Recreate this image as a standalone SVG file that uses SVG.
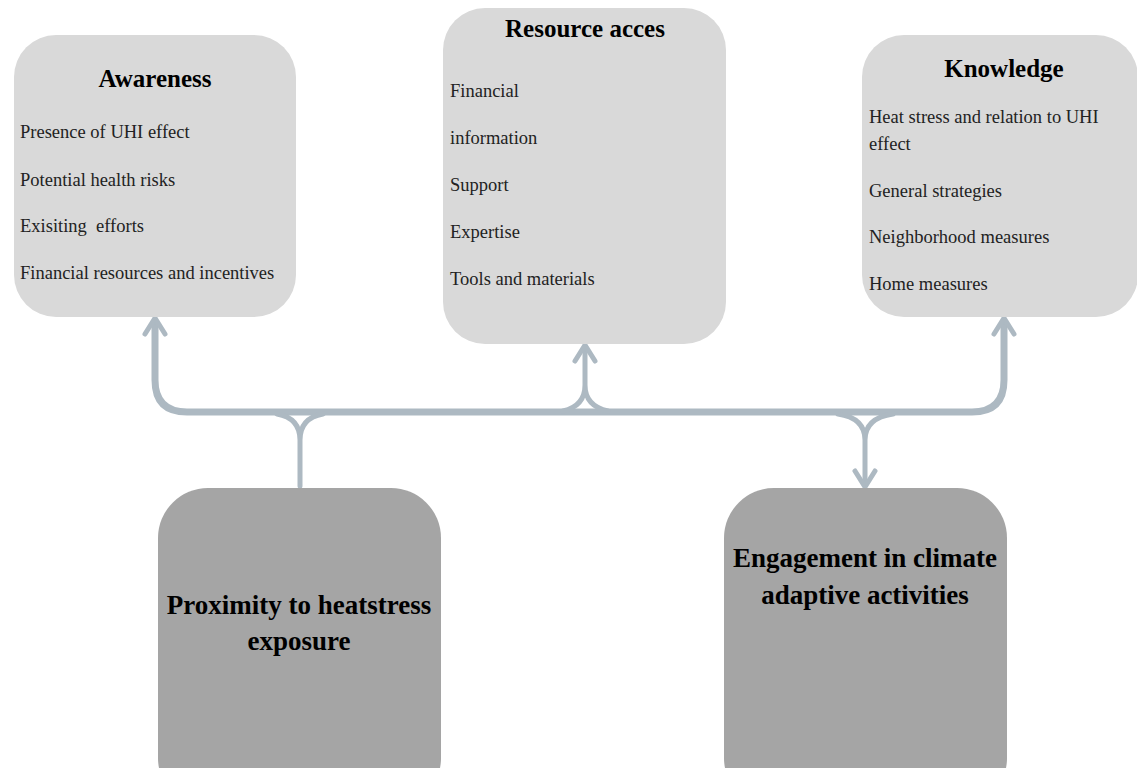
<svg xmlns="http://www.w3.org/2000/svg" width="1137" height="768" viewBox="0 0 1137 768">
<style>
.top{fill:#d9d9d9}
.bot{fill:#a5a5a5}
.title{font-family:"Liberation Serif",serif;font-weight:bold;font-size:25px;fill:#000;text-anchor:middle}
.item{font-family:"Liberation Serif",serif;font-size:18.5px;fill:#222}
.big{font-family:"Liberation Serif",serif;font-weight:bold;font-size:27px;fill:#000;text-anchor:middle}
.con{fill:none;stroke:#adb9c2;stroke-width:5;stroke-linecap:round;stroke-linejoin:round}
.bar{fill:none;stroke:#adb9c2;stroke-width:7}
</style>
<rect width="1137" height="768" fill="#fff"/>
<g id="connectors">
<path class="bar" d="M155,322 V380 Q155,412 187,412 H972 Q1004,412 1004,380 V322"/>
<path class="con" d="M155,320 V380"/>
<path class="con" d="M1004,320 V380"/>
<path class="con" d="M585,347 V385 Q585,406 563,411 M585,385 Q585,406 608,411"/>
<path class="con" d="M300,486 V440 Q300,418 277,414 M300,440 Q300,418 323,414"/>
<path class="con" d="M865,485 V440 Q865,418 838,414 M865,440 Q865,418 893,414"/>
<path class="con" d="M145,334 L155,318 L165,334"/>
<path class="con" d="M575,361 L585,345 L595,361"/>
<path class="con" d="M994,334 L1004,318 L1014,334"/>
<path class="con" d="M855,471 L865,487 L875,471"/>
</g>
<g id="awareness">
<rect class="top" x="14" y="35" width="282" height="282" rx="42"/>
<text class="title" x="155" y="87">Awareness</text>
<text class="item" x="20" y="138">Presence of UHI effect</text>
<text class="item" x="20" y="186">Potential health risks</text>
<text class="item" x="20" y="232" xml:space="preserve">Exisiting  efforts</text>
<text class="item" x="20" y="279">Financial resources and incentives</text>
</g>
<g id="resource">
<rect class="top" x="443" y="8" width="283" height="336" rx="42"/>
<text class="title" x="585" y="37">Resource acces</text>
<text class="item" x="450" y="97">Financial</text>
<text class="item" x="450" y="144">information</text>
<text class="item" x="450" y="191">Support</text>
<text class="item" x="450" y="238">Expertise</text>
<text class="item" x="450" y="285">Tools and materials</text>
</g>
<g id="knowledge">
<rect class="top" x="862" y="35" width="276" height="282" rx="42"/>
<text class="title" x="1004" y="77">Knowledge</text>
<text class="item" x="869" y="123">Heat stress and relation to UHI</text>
<text class="item" x="869" y="150">effect</text>
<text class="item" x="869" y="197">General strategies</text>
<text class="item" x="869" y="243">Neighborhood measures</text>
<text class="item" x="869" y="290">Home measures</text>
</g>
<g id="proximity">
<rect class="bot" x="158" y="488" width="283" height="320" rx="50"/>
<text class="big" x="299" y="614">Proximity to heatstress</text>
<text class="big" x="299" y="650">exposure</text>
</g>
<g id="engagement">
<rect class="bot" x="724" y="488" width="283" height="320" rx="50"/>
<text class="big" x="865" y="567">Engagement in climate</text>
<text class="big" x="865" y="604">adaptive activities</text>
</g>
</svg>
